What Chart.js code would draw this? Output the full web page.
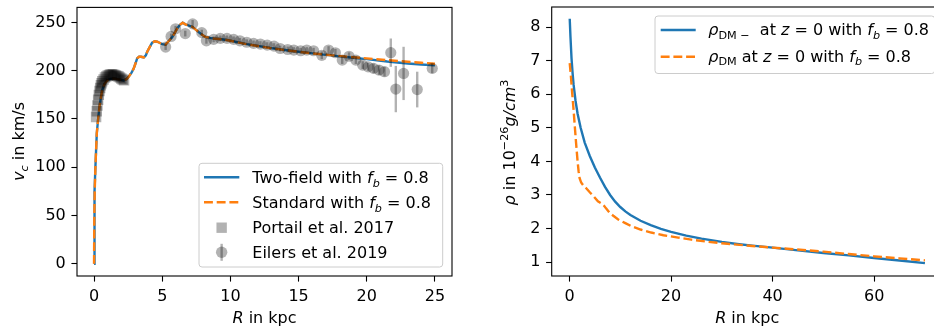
<!DOCTYPE html>
<html>
<head>
<meta charset="utf-8">
<script src="https://cdn.jsdelivr.net/npm/chart.js@4.4.0/dist/chart.umd.min.js"></script>
<style>
  html, body { margin: 0; padding: 0; background: #fff; }
  #wrap { position: relative; width: 934px; height: 327px; overflow: hidden; }
  canvas { position: absolute; top: 0; }
  #leftChart { left: 0; }
  #rightChart { left: 470px; }
</style>
</head>
<body>
<div id="wrap">
  <canvas id="leftChart" width="470" height="327"></canvas>
  <canvas id="rightChart" width="490" height="327"></canvas>
</div>
<script>
/* Two panels: rotation curve v_c(R) with data, and DM density rho(R). */

// ---- left panel: rotation curves (kpc, km/s) ----
const curveR = [0, 0.02, 0.05, 0.1, 0.2, 0.3, 0.4, 0.5, 0.6, 0.75, 0.96, 1.2, 1.45, 1.8, 2.18, 2.4, 2.55, 2.75, 2.9, 3.05,
  3.16, 3.3, 3.45, 3.65, 3.8, 3.9, 4.1, 4.26, 4.45, 4.63, 4.8, 5.0, 5.24, 5.5, 5.74, 5.95, 6.1, 6.3, 6.5, 6.7,
  7.2, 7.5, 7.8, 8.16, 8.5, 8.77, 9.5, 10, 11.2, 12.9, 14.4, 16, 17.5, 19, 20, 21.5, 23, 24, 25];
const twoFieldV = [0, 49, 75, 100, 135, 150, 163, 172, 180, 186, 190, 191.5, 192, 191, 190, 191.5, 194, 198, 202, 208,
  212.8, 214.5, 214.5, 213.8, 216, 219.7, 225, 229, 230.5, 230, 229, 227.6, 227, 231, 235, 240, 243.8, 247.5, 249.7, 248,
  245.6, 242, 238.6, 235, 234, 233.4, 232.4, 231, 227.5, 223.5, 220.7, 218, 215.7, 213.5, 212, 209.5, 207.5, 206.5, 205.5];
const standardV = [0, 49, 75, 100, 135, 150, 163, 172, 180, 186, 190, 191.5, 192, 191, 190, 191.5, 194, 198, 202, 208,
  212.8, 214.5, 214.5, 213.8, 216, 219.7, 225, 229, 230.5, 230, 229, 227.6, 227, 231, 235, 240, 243.8, 247.5, 249.7, 248,
  245.6, 242, 238.6, 235, 234, 233.4, 232.4, 231, 227.5, 223.5, 220.7, 218, 215.9, 214, 212.8, 211, 209.3, 208.3, 207.3];

const portailR = [0.15, 0.2, 0.25, 0.3, 0.35, 0.4, 0.45, 0.5, 0.55, 0.6, 0.7, 0.8, 0.9, 1.0, 1.1, 1.2, 1.3, 1.4, 1.5,
  1.6, 1.7, 1.8, 1.9, 2.0, 2.1, 2.2];
const portailV = [152, 158, 164, 170, 175, 179, 182, 185, 187, 189, 191, 193, 194, 195, 195.5, 196, 196, 196, 195.5,
  195, 194.5, 194, 193, 192, 191, 190];

const eilersR = [5.25, 5.65, 5.98, 6.69, 7.23, 7.9, 8.24, 8.77, 9.26, 9.75, 10.24, 10.7, 11.2, 11.7, 12.2, 12.7, 13.2,
  13.65, 14.2, 14.65, 15.15, 15.6, 16.1, 16.7, 17.2, 17.7, 18.2, 18.7, 19.2, 19.7, 20.1, 20.5, 20.9, 21.3, 21.76,
  22.13, 22.7, 23.7, 24.8];
const eilersV = [224.5, 235.5, 243.5, 238.5, 248.5, 239.5, 231, 232.5, 233.5, 233.5, 232.5, 231, 229.5, 228.3, 227.6,
  226.5, 225.5, 223, 222, 221.4, 220.7, 221.4, 220.7, 216, 221.4, 218.6, 211, 215, 211, 205.8, 204, 202.4, 200.7, 199,
  218.7, 181, 197.2, 180.5, 202.4];
const eilersErr = [3, 3, 3, 3, 4, 3, 3, 3, 3, 3, 3, 3, 3, 3, 3, 3, 3, 3, 3, 3, 3, 3, 3, 4, 4, 4, 4, 4, 4, 4, 4, 5, 5, 5,
  14.7, 24, 27.6, 18.5, 5];

const leftXTicks = [0, 5, 10, 15, 20, 25];
const leftYTicks = [0, 50, 100, 150, 200, 250];

// ---- right panel: density (kpc, 1e-26 g/cm^3) ----
const rhoMinusR = [0.05, 0.2, 0.4, 0.6, 0.8, 1.2, 1.6, 2.2, 3.0, 4.0, 5.0, 6, 7, 8, 9, 10, 11, 12, 14, 16, 18, 20, 23,
  26, 30, 33, 36, 40, 45, 50, 55, 60, 65, 70];
const rhoMinus = [8.25, 7.7, 7.08, 6.65, 6.3, 5.8, 5.42, 5.0, 4.56, 4.16, 3.82, 3.52, 3.24, 3.0, 2.8, 2.64, 2.51, 2.405,
  2.23, 2.1, 1.99, 1.9, 1.79, 1.7, 1.6, 1.54, 1.49, 1.43, 1.35, 1.27, 1.2, 1.12, 1.045, 0.97];
const rhoStdR = [0.05, 0.3, 0.53, 0.8, 1.05, 1.3, 1.57, 1.8, 2.0, 2.3, 2.7, 3.3, 4.0, 4.8, 5.6, 6.6, 7.2, 7.9, 8.7, 9.6,
  11, 12.2, 14, 16.1, 18.5, 21.4, 24, 27, 30, 33, 36, 40, 46, 50, 55, 60, 65, 70];
const rhoStd = [6.93, 6.5, 6.04, 5.55, 5.04, 4.55, 4.05, 3.7, 3.5, 3.37, 3.29, 3.2, 3.08, 2.95, 2.81, 2.72, 2.6, 2.47,
  2.37, 2.27, 2.16, 2.07, 1.97, 1.88, 1.8, 1.73, 1.67, 1.61, 1.56, 1.52, 1.48, 1.43, 1.36, 1.31, 1.24, 1.17, 1.11, 1.05];

const rightXTicks = [0, 20, 40, 60];
const rightYTicks = [1, 2, 3, 4, 5, 6, 7, 8];

const BLUE = "#1f77b4";
const ORANGE = "#ff7f0e";
const GREY = "rgba(0,0,0,0.3)";
const FAMILY = "'DejaVu Sans'";
const BASE = 16;

const pts = (xs, ys) => xs.map((x, i) => ({ x, y: ys[i] }));

// --- mathtext-ish rich text: [text, kind] with kind r | i | sb | sbi | sp
function fontOf(kind) {
  const italic = kind === "i" || kind === "sbi";
  const small = kind === "sb" || kind === "sbi" || kind === "sp";
  return (italic ? "italic " : "") + (small ? BASE * 0.7 : BASE) + "px " + FAMILY;
}
function shiftOf(kind) {
  if (kind === "sb" || kind === "sbi") return 3.5;
  if (kind === "sp") return -7;
  return 0;
}
function richWidth(ctx, parts) {
  let w = 0;
  parts.forEach(([t, k]) => { ctx.font = fontOf(k); w += ctx.measureText(t).width; });
  return w;
}
function drawRich(ctx, parts, x, y, align) {
  let cx = align === "center" ? x - richWidth(ctx, parts) / 2 : x;
  ctx.textAlign = "left";
  ctx.textBaseline = "alphabetic";
  parts.forEach(([t, k]) => {
    ctx.font = fontOf(k);
    ctx.fillText(t, cx, y + shiftOf(k));
    cx += ctx.measureText(t).width;
  });
}

const frame = {
  id: "frame",
  afterDatasetsDraw(chart) {
    const { ctx, chartArea: a } = chart;
    ctx.save();
    ctx.strokeStyle = "#000";
    ctx.lineWidth = 1.1;
    ctx.strokeRect(a.left, a.top, a.right - a.left, a.bottom - a.top);
    ctx.restore();
  }
};

const errorBars = {
  id: "errorBars",
  beforeDatasetDraw(chart, args, opts) {
    if (args.index !== opts.datasetIndex) return;
    const { ctx, scales: { x, y } } = chart;
    ctx.save();
    ctx.strokeStyle = GREY;
    ctx.lineWidth = 2.4;
    opts.xs.forEach((r, i) => {
      const px = x.getPixelForValue(r);
      ctx.beginPath();
      ctx.moveTo(px, y.getPixelForValue(opts.ys[i] - opts.errs[i]));
      ctx.lineTo(px, y.getPixelForValue(opts.ys[i] + opts.errs[i]));
      ctx.stroke();
    });
    ctx.restore();
  }
};

function drawHandle(ctx, h, x0, x1, y) {
  ctx.save();
  if (h.type === "line") {
    ctx.strokeStyle = h.color;
    ctx.lineWidth = 2.4;
    ctx.setLineDash(h.dash || []);
    ctx.beginPath();
    ctx.moveTo(x0, y);
    ctx.lineTo(x1, y);
    ctx.stroke();
  } else if (h.type === "square") {
    ctx.fillStyle = GREY;
    const m = (x0 + x1) / 2;
    ctx.fillRect(m - 5.2, y - 5.2, 10.4, 10.4);
  } else {
    const m = (x0 + x1) / 2;
    ctx.strokeStyle = GREY;
    ctx.lineWidth = 2.4;
    ctx.beginPath();
    ctx.moveTo(m, y - 8.5);
    ctx.lineTo(m, y + 8.5);
    ctx.stroke();
    ctx.fillStyle = GREY;
    ctx.beginPath();
    ctx.arc(m, y, 5.7, 0, Math.PI * 2);
    ctx.fill();
  }
  ctx.restore();
}

const boxLegend = {
  id: "boxLegend",
  afterDraw(chart, args, opts) {
    const ctx = chart.ctx;
    const [l, t, r, b] = opts.box;
    const rad = 3;
    ctx.save();
    ctx.beginPath();
    ctx.moveTo(l + rad, t);
    ctx.arcTo(r, t, r, b, rad);
    ctx.arcTo(r, b, l, b, rad);
    ctx.arcTo(l, b, l, t, rad);
    ctx.arcTo(l, t, r, t, rad);
    ctx.closePath();
    ctx.fillStyle = "rgba(255,255,255,0.8)";
    ctx.fill();
    ctx.strokeStyle = "#cccccc";
    ctx.lineWidth = 1;
    ctx.stroke();
    opts.items.forEach((it) => {
      drawHandle(ctx, it.handle, opts.handleX[0], opts.handleX[1], it.y);
      ctx.fillStyle = "#000";
      drawRich(ctx, it.label, opts.textX, it.baseline, "left");
    });
    ctx.restore();
  }
};

const axisTitles = {
  id: "axisTitles",
  afterDraw(chart, args, opts) {
    const ctx = chart.ctx;
    ctx.save();
    ctx.fillStyle = "#000";
    drawRich(ctx, opts.x.parts, opts.x.at[0], opts.x.at[1], "center");
    ctx.translate(opts.y.at[0], opts.y.at[1]);
    ctx.rotate(-Math.PI / 2);
    drawRich(ctx, opts.y.parts, 0, 0, "center");
    ctx.restore();
  }
};

function axis(min, max, ticks, dir, size) {
  return {
    type: "linear",
    min, max,
    afterBuildTicks: (s) => { s.ticks = ticks.map((v) => ({ value: v })); },
    afterFit: (s) => {
      if (dir === "x") { s.height = size; s.paddingLeft = 0; s.paddingRight = 0; }
      else { s.width = size; s.paddingTop = 0; s.paddingBottom = 0; }
    },
    grid: { display: true, drawOnChartArea: false, drawTicks: true, tickLength: 5.6, tickWidth: 1.1, tickColor: "#000" },
    border: { display: false },
    ticks: { autoSkip: false, maxRotation: 0, padding: 5.6, color: "#000", font: { family: "DejaVu Sans", size: BASE } }
  };
}

function panel(id, o) {
  return new Chart(document.getElementById(id), {
    type: "scatter",
    data: { datasets: o.datasets },
    options: {
      responsive: false,
      animation: false,
      devicePixelRatio: 1,
      events: [],
      layout: { padding: o.padding },
      plugins: {
        legend: { display: false },
        tooltip: { enabled: false },
        errorBars: o.errorBars,
        boxLegend: o.legend,
        axisTitles: o.titles
      },
      scales: {
        x: axis(o.xRange[0], o.xRange[1], o.xTicks, "x", 51),
        y: axis(o.yRange[0], o.yRange[1], o.yTicks, "y", o.yWidth)
      }
    },
    plugins: o.plugins
  });
}

const fbEq = [["f", "i"], ["b", "sbi"], [" = 0.8", "r"]];

panel("leftChart", {
  padding: { left: 0, top: 7, right: 18, bottom: 0 },
  yWidth: 77,
  xRange: [-1.25, 26.25], yRange: [-12.65, 265.6],
  xTicks: leftXTicks, yTicks: leftYTicks,
  plugins: [errorBars, frame, boxLegend, axisTitles],
  datasets: [
    { data: pts(curveR, twoFieldV), showLine: true, pointRadius: 0, borderColor: BLUE, borderWidth: 2.4, order: 4 },
    { data: pts(curveR, standardV), showLine: true, pointRadius: 0, borderColor: ORANGE, borderWidth: 2.4,
      borderDash: [8.9, 3.8], order: 3 },
    { data: pts(portailR, portailV), showLine: false, pointStyle: "rect", pointRadius: 7.4, pointBorderWidth: 0,
      borderWidth: 0, backgroundColor: GREY, order: 2 },
    { data: pts(eilersR, eilersV), showLine: false, pointStyle: "circle", pointRadius: 5.6, pointBorderWidth: 0,
      borderWidth: 0, backgroundColor: GREY, order: 1 }
  ],
  errorBars: { datasetIndex: 3, xs: eilersR, ys: eilersV, errs: eilersErr },
  legend: {
    box: [199, 163.3, 442.7, 267],
    handleX: [204, 239.3],
    textX: 252.3,
    items: [
      { handle: { type: "line", color: BLUE }, y: 177.3, baseline: 183.3, label: [["Two-field with ", "r"], ...fbEq] },
      { handle: { type: "line", color: ORANGE, dash: [8.9, 3.8] }, y: 202.3, baseline: 208.3,
        label: [["Standard with ", "r"], ...fbEq] },
      { handle: { type: "square" }, y: 227.7, baseline: 232.9, label: [["Portail et al. 2017", "r"]] },
      { handle: { type: "errbar" }, y: 252.3, baseline: 257.5, label: [["Eilers et al. 2019", "r"]] }
    ]
  },
  titles: {
    x: { parts: [["R", "i"], [" in kpc", "r"]], at: [264.5, 322.5] },
    y: { parts: [["v", "i"], ["c", "sbi"], [" in km/s", "r"]], at: [24, 141.5] }
  }
});

panel("rightChart", {
  padding: { left: 0, top: 7, right: 17.3, bottom: 0 },
  yWidth: 81.7,
  xRange: [-3.5, 73.5], yRange: [0.585, 8.6],
  xTicks: rightXTicks, yTicks: rightYTicks,
  plugins: [frame, boxLegend, axisTitles],
  datasets: [
    { data: pts(rhoMinusR, rhoMinus), showLine: true, pointRadius: 0, borderColor: BLUE, borderWidth: 2.4, order: 2 },
    { data: pts(rhoStdR, rhoStd), showLine: true, pointRadius: 0, borderColor: ORANGE, borderWidth: 2.4,
      borderDash: [8.9, 3.8], order: 1 }
  ],
  legend: {
    box: [185, 16, 464.7, 73.5],
    handleX: [190.7, 225.7],
    textX: 238.3,
    items: [
      { handle: { type: "line", color: BLUE }, y: 30, baseline: 35,
        label: [["ρ", "i"], ["DM −", "sb"], ["  at ", "r"], ["z", "i"], [" = 0 with ", "r"], ...fbEq] },
      { handle: { type: "line", color: ORANGE, dash: [8.9, 3.8] }, y: 56.7, baseline: 61.7,
        label: [["ρ", "i"], ["DM", "sb"], [" at ", "r"], ["z", "i"], [" = 0 with ", "r"], ...fbEq] }
    ]
  },
  titles: {
    x: { parts: [["R", "i"], [" in kpc", "r"]], at: [277.2, 322.5] },
    y: { parts: [["ρ", "i"], [" in 10", "r"], ["−26", "sp"], ["g/cm", "i"], ["3", "sp"]], at: [45, 142.5] }
  }
});
</script>
</body>
</html>
